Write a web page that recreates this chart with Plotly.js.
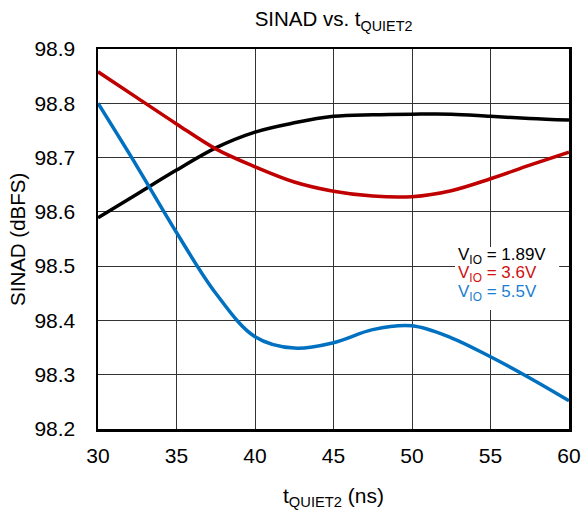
<!DOCTYPE html>
<html>
<head>
<meta charset="utf-8">
<script src="https://cdn.plot.ly/plotly-3.0.1.min.js"></script>
<style>html,body{margin:0;padding:0;background:#fff;}#chart{width:584px;height:516px;}</style>
</head>
<body>
<div id="chart"></div>
<script>
const tQuiet = [30, 32.5, 35, 37.5, 40, 42.5, 45, 47.5, 50, 52.5, 55, 57.5, 60];
const sinad189 = [98.589, 98.633, 98.677, 98.718, 98.747, 98.764, 98.776, 98.779, 98.780, 98.780, 98.776, 98.772, 98.769];
const sinad36  = [98.858, 98.810, 98.762, 98.716, 98.683, 98.655, 98.638, 98.629, 98.628, 98.639, 98.661, 98.686, 98.710];
const sinad55  = [98.800, 98.683, 98.562, 98.450, 98.370, 98.349, 98.359, 98.383, 98.390, 98.368, 98.333, 98.294, 98.252];
const seriesNames = ['V<sub>IO</sub> = 1.89V', 'V<sub>IO</sub> = 3.6V', 'V<sub>IO</sub> = 5.5V'];
const colors = ['#000000', '#c00000', '#0070c0'];
const xTicks = [30, 35, 40, 45, 50, 55, 60];
const yTicks = [98.2, 98.3, 98.4, 98.5, 98.6, 98.7, 98.8, 98.9];

const FONT = 'Liberation Sans, Arial, sans-serif';
const ys = [sinad189, sinad36, sinad55];
const traces = ys.map((y, i) => ({
  x: tQuiet, y: y, type: 'scatter', mode: 'lines', name: seriesNames[i],
  line: {color: colors[i], width: 3.5, shape: 'spline', smoothing: 1},
  cliponaxis: true, showlegend: false
}));

const legendY = [0.455, 0.408, 0.358];
const legendAnns = seriesNames.map((n, i) => ({
  text: n, xref: 'paper', yref: 'paper', x: 0.760, y: legendY[i], xanchor: 'left', yanchor: 'middle',
  align: 'left', showarrow: false, font: {family: FONT, size: 17, color: colors[i] === '#c00000' ? '#d01010' : colors[i] === '#0070c0' ? '#1a7fd0' : '#000'}
}));

const layout = {
  width: 584, height: 516,
  margin: {l: 98, r: 15, t: 49, b: 87, pad: 0},
  paper_bgcolor: '#fff', plot_bgcolor: '#fff',
  font: {family: FONT, color: '#000'},
  title: {text: 'SINAD vs. t<sub>QUIET2</sub>', font: {family: FONT, size: 20.5, color: '#000'},
          x: 0.5, xref: 'paper', xanchor: 'center', y: 0.963, yref: 'container', yanchor: 'middle'},
  xaxis: {range: [30, 60], tickvals: xTicks, ticktext: xTicks.map(String), showgrid: true,
          gridcolor: '#333', gridwidth: 1, zeroline: false, showline: true, linecolor: '#000', linewidth: 2.5,
          mirror: true, ticks: '', tickfont: {family: FONT, size: 21, color: '#000'}, ticklabelstandoff: 6},
  yaxis: {range: [98.2, 98.9], tickvals: yTicks, ticktext: yTicks.map(v => v.toFixed(1)), showgrid: true,
          gridcolor: '#333', gridwidth: 1, zeroline: false, showline: true, linecolor: '#000', linewidth: 2.5,
          mirror: true, ticks: '', tickfont: {family: FONT, size: 21, color: '#000'}, ticklabelstandoff: 16},
  shapes: [
    {type: 'rect', xref: 'paper', yref: 'paper', x0: 0.758, x1: 0.979, y0: 0.313, y1: 0.479,
     fillcolor: '#fff', line: {width: 0}, layer: 'above'}
  ],
  annotations: [
    {text: 't<sub>QUIET2</sub> (ns)', xref: 'paper', yref: 'paper', x: 0.5, y: -0.179, xanchor: 'center', yanchor: 'middle',
     showarrow: false, font: {family: FONT, size: 21, color: '#000'}},
    {text: 'SINAD (dBFS)', xref: 'paper', yref: 'paper', x: -0.172, y: 0.5, xanchor: 'center', yanchor: 'middle',
     textangle: -90, showarrow: false, font: {family: FONT, size: 20.5, color: '#000'}}
  ].concat(legendAnns)
};
Plotly.newPlot('chart', traces, layout, {staticPlot: true, displayModeBar: false});
</script>
</body>
</html>
